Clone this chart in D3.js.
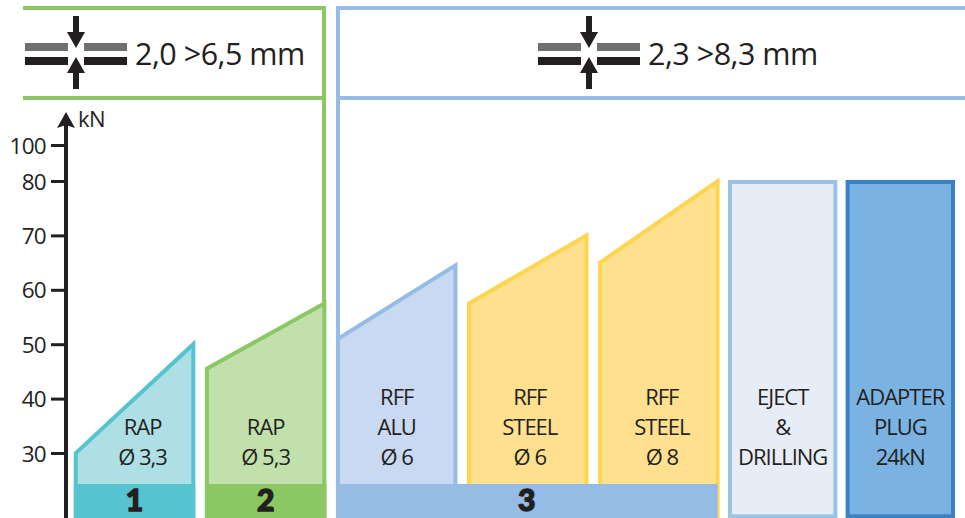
<!DOCTYPE html>
<html>
<head>
<meta charset="utf-8">
<style>
  body { margin:0; background:#fff; }
  svg { display:block; }
  text { font-family:"Open Sans", sans-serif; fill:#231f20; }
  .label { font-size:22px; text-anchor:middle; letter-spacing:-1px; }
  .range { font-size:30.5px; letter-spacing:-0.5px; }
  .group { font-family:Lato, sans-serif; font-size:30px; font-weight:900; text-anchor:middle; stroke:#231f20; stroke-width:1.4px; }
  .axis text { font-size:22.5px; letter-spacing:-0.7px; }
  .axis line { stroke:#231f20; stroke-width:3px; }
  .axis path { display:none; }
</style>
</head>
<body>
<svg width="965" height="518"></svg>
<script src="https://d3js.org/d3.v7.min.js"></script>
<script>

  // data
  var taperedBars = ["rap33", "rap53", "rffAlu6", "rffSteel6", "rffSteel8"]
  var fullBars = ["eject", "adapter"]
  var startForce = [30, 45.5, 51, 57.5, 65]
  var endForce = [50, 57.5, 64.5, 70, 80]
  var fullForce = [80, 80]
  var taperedLabels = [
    ["RAP", "Ø 3,3"],
    ["RAP", "Ø 5,3"],
    ["RFF", "ALU", "Ø 6"],
    ["RFF", "STEEL", "Ø 6"],
    ["RFF", "STEEL", "Ø 8"]
  ]
  var fullLabels = [
    ["EJECT", "&", "DRILLING"],
    ["ADAPTER", "PLUG", "24kN"]
  ]
  var forceTicks = [30, 40, 50, 60, 70, 80, 100]
  var groupNames = ["1", "2", "3"]
  var groupFirst = ["rap33", "rap53", "rffAlu6"]
  var groupLast = ["rap33", "rap53", "rffSteel8"]
  var rangeLabels = ["2,0 >6,5 mm", "2,3 >8,3 mm"]

  var svg = d3.select("svg")

  var allBars = taperedBars.concat(fullBars)
  var strokeColor = d3.scaleOrdinal().domain(allBars)
    .range(["#55c4d0", "#8bc864", "#94bce4", "#ffd54f", "#ffd54f", "#9cc2e8", "#3b82c4"])
  var fillColor = d3.scaleOrdinal().domain(allBars)
    .range(["#aedfe4", "#c2e0ac", "#c8d9f1", "#fee08f", "#fee08f", "#e7edf7", "#7ab2e2"])
  var groupColor = d3.scaleOrdinal().domain(groupNames)
    .range(["#55c4d0", "#8bc864", "#94bce4"])

  // y axis is broken above 80, hence the three stops
  var y = d3.scaleLinear().domain([30, 80, 100]).range([453, 181, 145])
  var floorForce = 18
  var bandForce = 24.3

  var xTapered = d3.scaleBand().domain(taperedBars).range([73.8, 719.6]).paddingInner(0.073)
  var xFull = d3.scaleBand().domain(fullBars).range([728, 955]).paddingInner(0.07)

  var stroke = 4

  // header frames
  var green = "#8bc864", blue = "#94bce4"
  function frameLine(x1, y1, x2, y2, color) {
    svg.append("line")
      .attr("x1", x1).attr("y1", y1).attr("x2", x2).attr("y2", y2)
      .attr("stroke", color).attr("stroke-width", stroke)
  }

  // tapered bars
  var line = d3.line()
  var tapered = taperedBars.map(function(id, i) {
    return {id:id, start:startForce[i], end:endForce[i], lines:taperedLabels[i]}
  })
  svg.selectAll(".bar")
    .data(tapered)
    .enter().append("path")
    .attr("class", "bar")
    .attr("fill", function(d) { return fillColor(d.id) })
    .attr("stroke", function(d) { return strokeColor(d.id) })
    .attr("stroke-width", stroke)
    .attr("stroke-miterlimit", 10)
    .attr("d", function(d) {
      var x0 = xTapered(d.id) + stroke/2
      var x1 = xTapered(d.id) + xTapered.bandwidth() - stroke/2
      return line([[x0, y(floorForce) + stroke], [x0, y(d.start)], [x1, y(d.end)], [x1, y(floorForce) + stroke]])
    })

  // full height bars
  var full = fullBars.map(function(id, i) {
    return {id:id, force:fullForce[i], lines:fullLabels[i]}
  })
  svg.selectAll(".fullBar")
    .data(full)
    .enter().append("rect")
    .attr("class", "fullBar")
    .attr("x", function(d) { return xFull(d.id) + stroke/2 })
    .attr("y", function(d) { return y(d.force) + 1 })
    .attr("width", xFull.bandwidth() - stroke)
    .attr("height", function(d) { return y(floorForce) - y(d.force) - 1 - stroke/2 })
    .attr("fill", function(d) { return fillColor(d.id) })
    .attr("stroke", function(d) { return strokeColor(d.id) })
    .attr("stroke-width", stroke)

  // frames go over the bars, the green one runs down into bar 2
  frameLine(23, 8, 326, 8, green)
  frameLine(23, 98, 324, 98, green)
  frameLine(324, 6, 324, y(57.5), green)
  frameLine(338, 6, 338, y(51) + 2, blue)
  frameLine(336, 8, 965, 8, blue)
  frameLine(338, 98, 965, 98, blue)

  // number bands along the bottom
  var groups = groupNames.map(function(name, i) {
    return {name:name, first:groupFirst[i], last:groupLast[i]}
  })
  var band = svg.selectAll(".band")
    .data(groups)
    .enter().append("g")
    .attr("class", "band")
  function bandLeft(d) { return xTapered(d.first) }
  function bandRight(d) {
    // band 3 stops just short of the yellow border
    var right = xTapered(d.last) + xTapered.bandwidth()
    return d.name == "3" ? right - 2 : right
  }
  band.append("rect")
    .attr("x", bandLeft)
    .attr("y", y(bandForce))
    .attr("width", function(d) { return bandRight(d) - bandLeft(d) })
    .attr("height", y(floorForce) - y(bandForce))
    .attr("fill", function(d) { return groupColor(d.name) })
  band.append("text")
    .attr("class", "group")
    .attr("x", function(d) { return (bandLeft(d) + bandRight(d))/2 })
    .attr("y", 511)
    .text(function(d) { return d.name })

  // bar labels, stacked up from the last line
  var lineHeight = 30, lastBaseline = 465
  var labelShift = {rap33:8, rffSteel6:2, rffSteel8:3}
  function drawLabels(data, scale) {
    data.forEach(function(d) {
      var cx = scale(d.id) + scale.bandwidth()/2 + (labelShift[d.id] || 0)
      d.lines.forEach(function(t, i) {
        svg.append("text")
          .attr("class", "label")
          .attr("x", cx)
          .attr("y", lastBaseline - (d.lines.length - 1 - i)*lineHeight)
          .text(t)
      })
    })
  }
  drawLabels(tapered, xTapered)
  drawLabels(full, xFull)

  // y axis
  var axisX = 66
  var gAxis = svg.append("g")
    .attr("class", "axis")
    .attr("transform", "translate(" + axisX + ",0)")
    .call(d3.axisLeft(y).tickValues(forceTicks).tickFormat(d3.format("d")).tickSize(15).tickPadding(5))
  gAxis.selectAll("text").attr("dy", "0.36em")

  svg.append("line")
    .attr("x1", axisX).attr("x2", axisX)
    .attr("y1", 518).attr("y2", 125)
    .attr("stroke", "#231f20").attr("stroke-width", 4)
  svg.append("path")
    .attr("d", line([[axisX, 112], [axisX + 9, 128], [axisX, 125], [axisX - 9, 128]]))
    .attr("fill", "#231f20")
  svg.append("text")
    .attr("x", 78).attr("y", 127)
    .attr("font-size", 22).attr("letter-spacing", -0.6)
    .text("kN")

  // squeezed sheets icon and the range next to it
  function clampIcon(cx, label) {
    var g = svg.append("g").attr("transform", "translate(" + cx + ",0)")
    ;[-1, 1].forEach(function(side) {
      g.append("rect")
        .attr("x", side < 0 ? -51 : 8).attr("y", 43)
        .attr("width", 43).attr("height", 8).attr("fill", "#707070")
      g.append("rect")
        .attr("x", side < 0 ? -51 : 8).attr("y", 57)
        .attr("width", 43).attr("height", 8).attr("fill", "#231f20")
    })
    g.append("path")
      .attr("d", line([[-3, 16], [3, 16], [3, 32], [9, 32], [0, 48], [-9, 32], [-3, 32]]) + "Z")
      .attr("fill", "#231f20")
    g.append("path")
      .attr("d", line([[-3, 89], [3, 89], [3, 73], [9, 73], [0, 57], [-9, 73], [-3, 73]]) + "Z")
      .attr("fill", "#231f20")
    g.append("text")
      .attr("class", "range")
      .attr("x", 59).attr("y", 65)
      .text(label)
  }
  clampIcon(76, rangeLabels[0])
  clampIcon(589, rangeLabels[1])

</script>
</body>
</html>
